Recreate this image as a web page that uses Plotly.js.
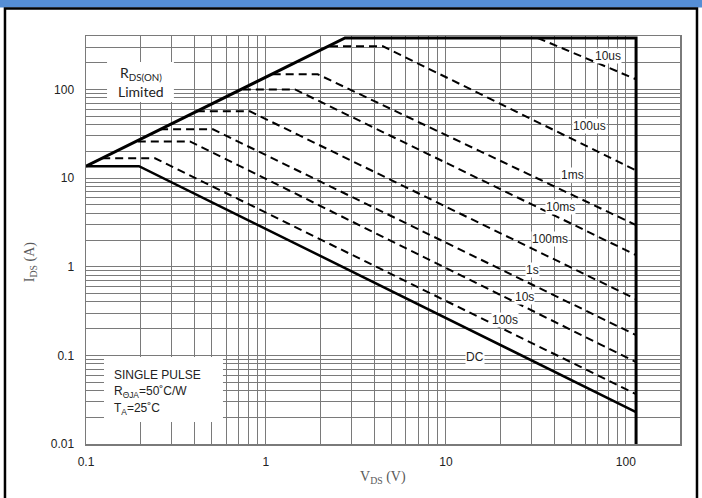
<!DOCTYPE html>
<html>
<head>
<meta charset="utf-8">
<script src="https://cdn.plot.ly/plotly-3.0.1.min.js"></script>
<style>html,body{margin:0;padding:0;background:#fff}#chart{width:702px;height:498px}</style>
</head>
<body>
<div id="chart"></div>
<script>
// ---- data ----
const boundaryV = [0.1, 2.75, 114, 114];
const boundaryI = [13.6, 380, 380, 0.01];

const dcV = [0.1, 0.197, 114];
const dcI = [13.6, 13.6, 0.0229];

const p100sV = [0.123, 0.242, 114];
const p100sI = [16.7, 16.7, 0.0365];

const p10sV = [0.194, 0.378, 114];
const p10sI = [25.9, 25.9, 0.084];

const p1sV = [0.258, 0.508, 114];
const p1sI = [35.4, 35.4, 0.169];

const p100msV = [0.413, 0.815, 114];
const p100msI = [56.5, 56.5, 0.43];

const p10msV = [0.744, 1.45, 114];
const p10msI = [100, 100, 1.35];

const p1msV = [1.09, 1.94, 114];
const p1msI = [148, 148, 2.94];

const p100usV = [2.27, 4.47, 114];
const p100usI = [306, 306, 12.2];

const p10usV = [32.4, 114];
const p10usI = [380, 130];

const curveLabels = ["10us", "100us", "1ms", "10ms", "100ms", "1s", "10s", "100s", "DC"];
const labelV = [79.4, 63.1, 50.8, 43.6, 37.8, 30.4, 27.5, 21.3, 14.5];
const labelI = [235, 38.3, 10.7, 4.68, 2.04, 0.914, 0.453, 0.249, 0.0955];

const xTickVals = [0.1, 1, 10, 100];
const xTickText = ["0.1", "1", "10", "100"];
const yTickVals = [0.01, 0.1, 1, 10, 100];
const yTickText = ["0.01", "0.1", "1", "10", "100"];

// ---- grid positions (1..9 per decade) ----
function gridVals(lo, hi) {
  const out = [];
  for (let d = Math.floor(Math.log10(lo)); d <= Math.ceil(Math.log10(hi)); d++) {
    for (let m = 1; m <= 9; m++) {
      const v = +(m * Math.pow(10, d)).toPrecision(6);
      if (v >= lo * 0.999 && v <= hi * 1.001) out.push(v);
    }
  }
  return out;
}
const xg = gridVals(0.1, 200);
const yg = gridVals(0.01, 400);

const solid = (x, y, w) => ({x, y, type: "scatter", mode: "lines", line: {color: "#000", width: w}, hoverinfo: "skip", showlegend: false});
const dashed = (x, y) => ({x, y, type: "scatter", mode: "lines", line: {color: "#000", width: 2, dash: "8px,5px"}, hoverinfo: "skip", showlegend: false});

const traces = [
  dashed(p10usV, p10usI),
  dashed(p100usV, p100usI),
  dashed(p1msV, p1msI),
  dashed(p10msV, p10msI),
  dashed(p100msV, p100msI),
  dashed(p1sV, p1sI),
  dashed(p10sV, p10sI),
  dashed(p100sV, p100sI),
  solid(dcV, dcI, 2.5),
  solid(boundaryV, boundaryI, 3)
];

const sans = "Liberation Sans, Arial, sans-serif";
const note = (x, y, text, font, xanchor) => ({xref: "paper", yref: "paper", x, y, text, showarrow: false,
  xanchor: xanchor || "center", yanchor: "middle", font});

const annots = [];
curveLabels.forEach((t, i) => annots.push({
  x: Math.log10(labelV[i]), y: Math.log10(labelI[i]), xref: "x", yref: "y",
  xanchor: "center", yanchor: "middle",
  text: t, showarrow: false, bgcolor: "#fff", borderpad: 0,
  font: {family: sans, size: 12, color: "#222"}
}));

const calib = {family: "Lato, Carlito, sans-serif", size: 14, color: "#222"};
const small = {family: sans, size: 12, color: "#222"};
const serif = {family: "Liberation Serif, Times New Roman, serif", size: 14, color: "#595959"};
annots.push(
  note(0.0918, 0.909, "R<sub>DS(ON)</sub>", calib),
  note(0.0918, 0.865, "Limited", calib),
  note(0.0438, 0.169, "SINGLE PULSE", small, "left"),
  note(0.0438, 0.127, "R<sub>ΘJA</sub>=50˚C/W", small, "left"),
  note(0.0438, 0.086, "T<sub>A</sub>=25˚C", small, "left"),
  Object.assign(note(-0.094, 0.446, "I<sub>DS</sub> (A)", serif), {textangle: -90}),
  note(0.5, -0.083, "V<sub>DS</sub> (V)", serif)
);

const shapes = [
  // white boxes hiding the grid behind the notes (they do not touch any curve)
  {type: "rect", xref: "paper", yref: "paper", x0: 0.0354, x1: 0.148, y0: 0.838, y1: 0.936, fillcolor: "#fff", line: {width: 0}, layer: "above"},
  {type: "rect", xref: "paper", yref: "paper", x0: 0.0303, x1: 0.2306, y0: 0.054, y1: 0.213, fillcolor: "#fff", line: {width: 0}, layer: "above"},
  {type: "rect", xref: "paper", yref: "paper", x0: -0.2, x1: 1.2, y0: 1.0699, y1: 1.12, fillcolor: "#558ED5", line: {width: 0}, layer: "above"},
  {type: "rect", xref: "paper", yref: "paper", x0: -0.1364, x1: 1.0286, y0: -0.3, y1: 1.0675, fillcolor: "rgba(0,0,0,0)", line: {color: "#000", width: 2.5}, layer: "above"}
];

const axisCommon = {
  type: "log", showgrid: true, gridcolor: "#7a7a7a", gridwidth: 1,
  showline: true, linecolor: "#7a7a7a", linewidth: 1.5, mirror: true,
  ticks: "", zeroline: false, tickmode: "array",
  tickfont: small
};

const layout = {
  width: 702, height: 498,
  margin: {l: 86, r: 22, t: 36, b: 54},
  paper_bgcolor: "#fff", plot_bgcolor: "#fff",
  showlegend: false,
  xaxis: Object.assign({}, axisCommon, {range: [-1, Math.log10(200)], tickvals: xTickVals, ticktext: xTickText, ticklabelstandoff: 6,
    minor: {tickmode: "array", tickvals: xg, showgrid: true, gridcolor: "#7a7a7a", gridwidth: 1, ticks: ""}}),
  yaxis: Object.assign({}, axisCommon, {range: [-2, Math.log10(400)], tickvals: yTickVals, ticktext: yTickText, ticklabelstandoff: 8,
    minor: {tickmode: "array", tickvals: yg, showgrid: true, gridcolor: "#7a7a7a", gridwidth: 1, ticks: ""}}),
  annotations: annots,
  shapes: shapes
};

Plotly.newPlot("chart", traces, layout, {staticPlot: true, displayModeBar: false});
</script>
</body>
</html>
